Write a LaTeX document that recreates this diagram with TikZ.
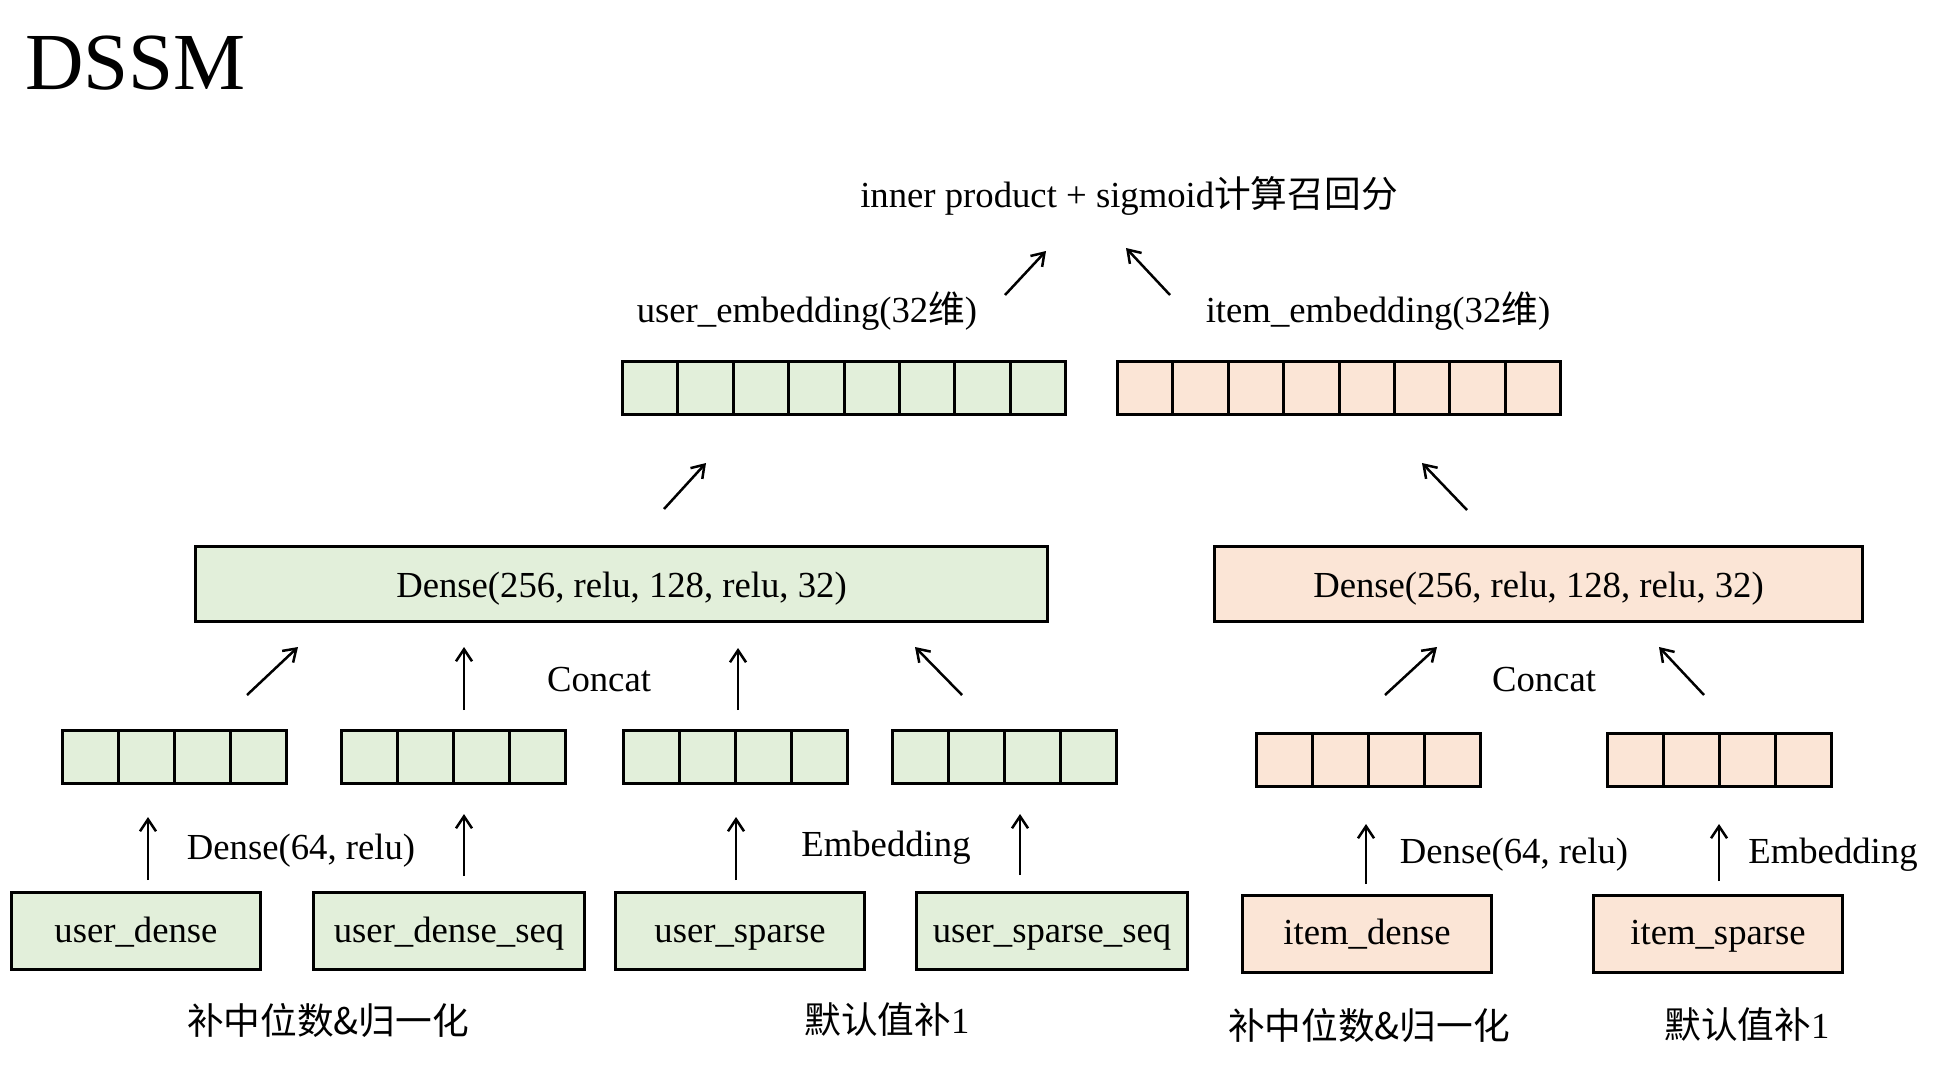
\documentclass[tikz,border=0pt]{standalone}
\usepackage{fontspec}
\setmainfont{Liberation Serif}
\newfontfamily\cjk{Noto Sans CJK SC}
\usetikzlibrary{arrows.meta, positioning}
\definecolor{usergreen}{HTML}{E2EFDA}
\definecolor{itemorange}{HTML}{FBE5D6}
\newcommand{\body}{\fontsize{36.7pt}{44pt}\selectfont}
% row of cells: name, left x, centre y, number of cells, cell width, fill
\newcommand{\cellbar}[6]{%
	\foreach \i in {1,...,#4}
		\node[cell, minimum width=#5pt, fill=#6] (#1-\i) at ({#2+#5*(\i-0.5)}, #3) {};
}

\begin{document}
\begin{tikzpicture}[x=1pt, y=-1pt,
		box/.style={draw, line width=3pt, inner sep=0pt, font=\body, text height=26pt, text depth=4pt},
		tower/.style={box, text depth=0pt, minimum height=75pt},
		cell/.style={draw, line width=3pt, inner sep=0pt, minimum height=53pt},
		lbl/.style={inner sep=0pt, font=\body},
		arr/.style={-{Straight Barb[length=12pt, width=16pt]}, line width=2.5pt}]
	\useasboundingbox (0,0) rectangle (1946,1092);

	\node[anchor=base west, inner sep=0pt, font=\fontsize{81pt}{90pt}\selectfont] (title) at (25,89) {DSSM};

	% score
	\node[lbl] (score) at (1129,196) {inner product + sigmoid{\cjk 计算召回分}};
	\node[lbl] (uemb-t) at (807,311) {user\_embedding(32{\cjk 维})};
	\node[lbl] (iemb-t) at (1378,311) {item\_embedding(32{\cjk 维})};

	% embeddings
	\cellbar{ue}{622.5}{387.5}{8}{55.4}{usergreen}
	\cellbar{ie}{1117.5}{387.5}{8}{55.4}{itemorange}

	% towers
	\node[tower, fill=usergreen, minimum width=852pt] (utower) at (621.5,584) {Dense(256, relu, 128, relu, 32)};
	\node[tower, fill=itemorange, minimum width=648pt] (itower) at (1538.5,584) {Dense(256, relu, 128, relu, 32)};
	\node[lbl] (ucat) at (599,680) {Concat};
	\node[lbl] (icat) at (1544,680) {Concat};

	% feature vectors
	\cellbar{b1}{62.5}{757}{4}{56}{usergreen}
	\cellbar{b2}{341.5}{757}{4}{56}{usergreen}
	\cellbar{b3}{623.5}{757}{4}{56}{usergreen}
	\cellbar{b4}{892.5}{757}{4}{56}{usergreen}
	\cellbar{b5}{1256.5}{759.5}{4}{56}{itemorange}
	\cellbar{b6}{1607.5}{759.5}{4}{56}{itemorange}

	\node[lbl] (udense-t) at (301,851) {Dense(64, relu)};
	\node[lbl] (uembed-t) at (886,848) {Embedding};
	\node[lbl] (idense-t) at (1514,855) {Dense(64, relu)};
	\node[lbl] (iembed-t) at (1833,855) {Embedding};

	% inputs
	\node[box, fill=usergreen, minimum width=249pt, minimum height=77pt] (ud) at (136,931) {user\_dense};
	\node[box, fill=usergreen, minimum width=271pt, minimum height=77pt] (uds) at (449,931) {user\_dense\_seq};
	\node[box, fill=usergreen, minimum width=249pt, minimum height=77pt] (us) at (740,931) {user\_sparse};
	\node[box, fill=usergreen, minimum width=271pt, minimum height=77pt] (uss) at (1052,931) {user\_sparse\_seq};
	\node[box, fill=itemorange, minimum width=249pt, minimum height=77pt] (id) at (1367,933.5) {item\_dense};
	\node[box, fill=itemorange, minimum width=249pt, minimum height=77pt] (is) at (1718,933.5) {item\_sparse};

	\node[lbl] (fill-ud) at (328,1020) {\cjk 补中位数\&归一化};
	\node[lbl] (fill-us) at (887,1020) {{\cjk 默认值补}1};
	\node[lbl] (fill-id) at (1369,1025) {\cjk 补中位数\&归一化};
	\node[lbl] (fill-is) at (1747,1025) {{\cjk 默认值补}1};

	% arrow ends
	\coordinate (ud-s) at (148,880);   \coordinate (ud-e) at (148,817);
	\coordinate (uds-s) at (464,876);  \coordinate (uds-e) at (464,814);
	\coordinate (us-s) at (736,880);   \coordinate (us-e) at (736,817);
	\coordinate (uss-s) at (1020,875); \coordinate (uss-e) at (1020,814);
	\coordinate (id-s) at (1366,884);  \coordinate (id-e) at (1366,824);
	\coordinate (is-s) at (1719,881);  \coordinate (is-e) at (1719,824);
	\coordinate (b1-s) at (247,695);   \coordinate (b1-e) at (298,647);
	\coordinate (b2-s) at (464,710);   \coordinate (b2-e) at (464,647);
	\coordinate (b3-s) at (738,710);   \coordinate (b3-e) at (738,648);
	\coordinate (b4-s) at (962,695);   \coordinate (b4-e) at (915,647);
	\coordinate (b5-s) at (1385,695);  \coordinate (b5-e) at (1437,647);
	\coordinate (b6-s) at (1704,695);  \coordinate (b6-e) at (1659,647);
	\coordinate (ut-s) at (664,509);   \coordinate (ut-e) at (706,463);
	\coordinate (it-s) at (1467,510);  \coordinate (it-e) at (1422,463);
	\coordinate (ue-s) at (1005,295);  \coordinate (ue-e) at (1046,251);
	\coordinate (ie-s) at (1170,295);  \coordinate (ie-e) at (1126,248);

	\foreach \n in {ud,uds,us,uss,id,is,b1,b2,b3,b4,b5,b6,ut,it,ue,ie}
		\draw[arr] (\n-s) -- (\n-e);
\end{tikzpicture}
\end{document}
